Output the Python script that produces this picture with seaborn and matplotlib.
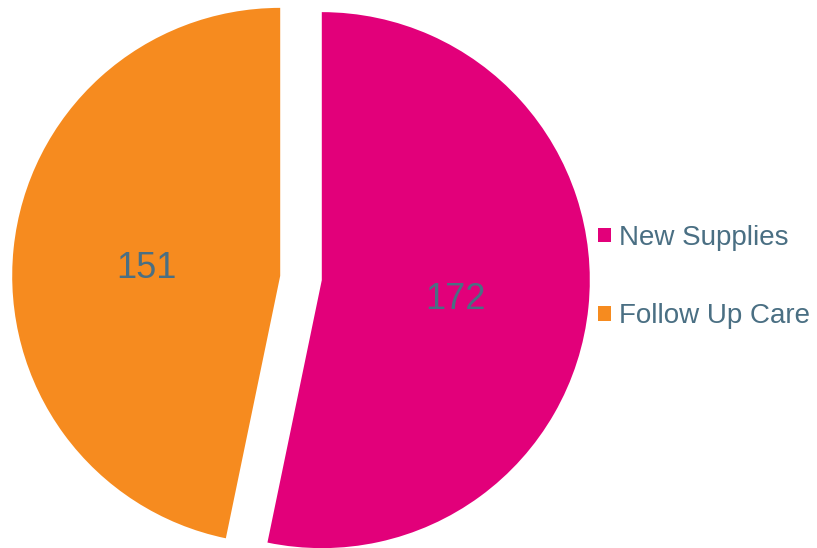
import matplotlib
matplotlib.use("Agg")
import matplotlib.pyplot as plt
import seaborn as sns

# data
categories = ["New Supplies", "Follow Up Care"]
counts = [172, 151]
colours = ["#E2007A", "#F68B1F"]
text_col = "#4A6F83"

sns.set_theme(style="white")
plt.rcParams['font.family'] = ['Liberation Sans', 'DejaVu Sans']

fig = plt.figure(figsize=(8.17, 5.48), dpi=100)
ax = fig.add_axes([0, 0, 1, 1])

wedges, texts, autotexts = ax.pie(
    counts,
    colors=sns.color_palette(colours),
    startangle=90,
    counterclock=False,
    explode=[0.078, 0.078],
    autopct=lambda p: "{:.0f}".format(p * sum(counts) / 100),
    pctdistance=0.5,
    wedgeprops=dict(linewidth=0),
    textprops=dict(color=text_col, fontsize=26),
)

# place the pie like the reference (radius ~268 px)
R = 268.0
ax.set_xlim(-301 / R, (817 - 301) / R)
ax.set_ylim(-270 / R, 278 / R)
ax.set_aspect('auto')
ax.axis('off')

# value labels sit a little lower in the original
for t in autotexts:
    x, y = t.get_position()
    t.set_position((x, y - 6 / R))

ax.legend(wedges, categories, loc='center left',
          bbox_to_anchor=(598 / 817, 271 / 548), bbox_transform=fig.transFigure,
          frameon=False, fontsize=20, labelcolor=text_col,
          handlelength=0.45, handleheight=0.45, handletextpad=0.3,
          labelspacing=1.88, borderpad=0, borderaxespad=0)

plt.savefig("out.png", dpi=100)
